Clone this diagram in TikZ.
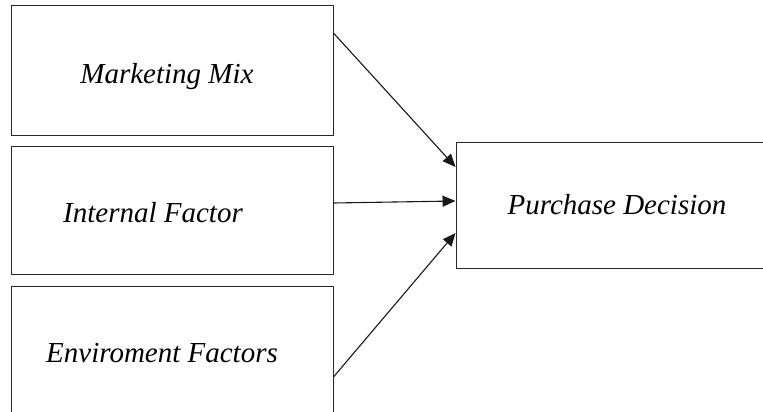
\documentclass[tikz,border=0pt]{standalone}
\usepackage{fontspec}
\setmainfont{Liberation Serif}
\usetikzlibrary{arrows.meta}
\begin{document}
\begin{tikzpicture}[x = 1pt, y = -1pt, line join = round,
		box/.style = {draw = black!85, line width = 0.9pt, minimum width = \w pt, inner sep = 0pt},
		txt/.style = {font = \fontsize{29}{32}\selectfont\itshape},
		link/.style = {draw = black!90, line width = 1.1pt, -{Triangle[length = 13pt, width = 11pt]}}]
				\pgfmathsetmacro\w{322};
				\useasboundingbox (0,0) rectangle (763,412);
				\node[box, minimum height = 130pt, label = {[txt, xshift = -5pt, yshift = -7pt]center:Marketing Mix}] (mix) at (172,70) {};
				\node[box, minimum height = 128pt, label = {[txt, xshift = -19pt, yshift = -3pt]center:Internal Factor}] (fac) at (172,210) {};
				\node[box, minimum height = 128pt, label = {[txt, xshift = -10pt, yshift = -3pt]center:Enviroment Factors}] (env) at (172,350) {};
				\node[box, minimum height = 126pt, label = {[txt]center:Purchase Decision}] (dec) at (617,205) {};
				\draw[link] ([yshift = 37pt]mix.east) -- ([yshift = 38pt]dec.west);
				\draw[link] ([yshift = 7pt]fac.east) -- ([yshift = 4pt]dec.west);
				\draw[link] ([yshift = -27pt]env.east) -- ([yshift = -28pt]dec.west);
\end{tikzpicture}
\end{document}
